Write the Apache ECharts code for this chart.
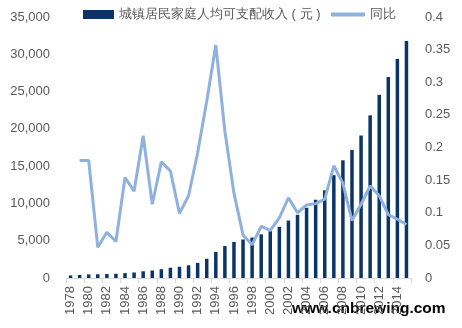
<!DOCTYPE html>
<html><head><meta charset="utf-8">
<script src="https://cdn.jsdelivr.net/npm/echarts@6/dist/echarts.min.js"></script>
<style>html,body{margin:0;padding:0;background:#fff}#c{width:462px;height:328px}</style>
</head><body><div id="c"></div>
<script>
const years = [];
for (let y = 1978; y <= 2015; y++) years.push(String(y));
const income = [343,405,478,500,535,565,652,739,900,1002,1180,1374,1510,1701,2027,2577,3496,4283,4839,5160,5425,5854,6280,6860,7703,8472,9422,10493,11759,13786,15781,17175,19109,21810,24565,26955,29381,31790];
const yoy = ['-',0.180,0.180,0.047,0.070,0.056,0.154,0.133,0.218,0.113,0.178,0.164,0.099,0.126,0.192,0.271,0.357,0.225,0.130,0.066,0.051,0.079,0.073,0.092,0.123,0.100,0.112,0.114,0.121,0.172,0.145,0.088,0.113,0.141,0.126,0.097,0.090,0.082];
const leftTicks = {min:0,max:35000,interval:5000};
const rightTicks = {min:0,max:0.4,interval:0.05};
const barName = '城镇居民家庭人均可支配收入 ( 元 )';
const lineName = '同比';

const chart = echarts.init(document.getElementById('c'));
const font = 'Liberation Sans, Arial, sans-serif';
chart.setOption({
  animation:false,
  textStyle:{fontFamily:font},
  legend:[
    {left:78, top:3, itemWidth:31, itemHeight:9, itemGap:4,
     textStyle:{fontSize:13,color:'#595959',fontFamily:font},
     data:[{name:barName,icon:'rect'}]},
    {left:326, top:3, itemWidth:34, itemHeight:4, itemGap:4,
     textStyle:{fontSize:13,color:'#595959',fontFamily:font},
     data:[{name:lineName,icon:'roundRect'}]}
  ],
  grid:{left:66,right:51,top:17,bottom:50,containLabel:false},
  xAxis:{
    type:'category', data:years,
    axisLine:{lineStyle:{color:'#d9d9d9',width:1}},
    axisTick:{show:true,interval:1,lineStyle:{color:'#d9d9d9'},length:5},
    axisLabel:{interval:1,rotate:90,fontSize:13,color:'#595959',margin:8,fontFamily:font}
  },
  yAxis:[
    {type:'value',min:leftTicks.min,max:leftTicks.max,interval:leftTicks.interval,
     splitLine:{show:false},axisLine:{show:false},axisTick:{show:false},
     axisLabel:{fontSize:13,color:'#595959',margin:16,fontFamily:font,
       formatter:v=>v.toLocaleString('en-US')}},
    {type:'value',min:rightTicks.min,max:rightTicks.max,interval:rightTicks.interval,
     splitLine:{show:false},axisLine:{show:false},axisTick:{show:false},
     axisLabel:{fontSize:13,color:'#595959',margin:14,fontFamily:font,
       formatter:v=>String(Math.round(v*100)/100)}}
  ],
  series:[
    {name:barName,type:'bar',data:income,barWidth:3.5,
     itemStyle:{color:'#0b3566'}},
    {name:lineName,type:'line',yAxisIndex:1,data:yoy,symbol:'none',
     lineStyle:{color:'#8fb1dd',width:3},itemStyle:{color:'#8fb1dd'},z:3}
  ],
  graphic:[{type:'text',left:292,top:301,style:{text:'www.cnbrewing.com',fill:'#000',
    font:'bold 15.5px Liberation Sans, Arial, sans-serif'}}]
});
</script></body></html>
